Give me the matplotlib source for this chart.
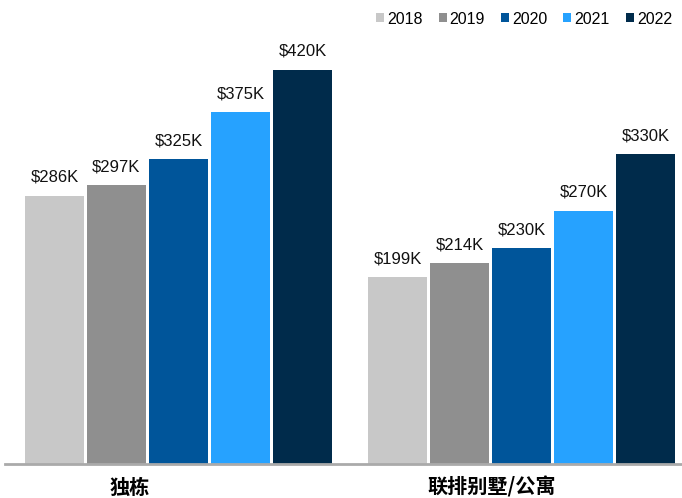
import numpy as np
import matplotlib.pyplot as plt

# ----------------------------
# Data
# ----------------------------
categories = ["独栋", "联排别墅/公寓"]
years = ["2018", "2019", "2020", "2021", "2022"]
values = {
    "2018": [286, 199],
    "2019": [297, 214],
    "2020": [325, 230],
    "2021": [375, 270],
    "2022": [420, 330],
}
colors = ["#c8c8c8", "#8f8f8f", "#00559a", "#26a2ff", "#002b4b"]

# ----------------------------
# Plot
# ----------------------------
plt.rcParams["font.family"] = ["Liberation Sans", "DejaVu Sans"]

fig = plt.figure(figsize=(6.82, 4.98), dpi=100)
ax = fig.add_axes([0.0073, 34 / 498, 0.9927, 454 / 498])

x = np.arange(len(categories))
pitch = 0.1805
width = 0.1718

for i, yr in enumerate(years):
    pos = x + (i - 2) * pitch
    bars = ax.bar(pos, values[yr], width=width, color=colors[i], label=yr, zorder=2)
    for b, v in zip(bars, values[yr]):
        ax.annotate(f"${v}K", (b.get_x() + b.get_width() / 2, v),
                    xytext=(0, 8), textcoords="offset points",
                    ha="center", va="bottom", fontsize=12, color="#111111")

ax.set_ylim(0, 484)
ax.set_xlim(-0.505, 1.466)

# category labels sit a bit left of group centres in the original
ax.set_xticks([-0.141, 0.913])
ax.set_xticklabels(categories, fontsize=14.5, fontweight="bold",
                   family=["Noto Sans CJK SC", "DejaVu Sans"])
ax.tick_params(axis="x", length=0, pad=9)
ax.set_yticks([])

for s in ["top", "right", "left"]:
    ax.spines[s].set_visible(False)
ax.spines["bottom"].set_color("#aaaaaa")
ax.spines["bottom"].set_linewidth(2)

ax.legend(loc="center right", bbox_to_anchor=(0.995, 1 - 19 / 498),
          bbox_transform=fig.transFigure, ncol=5, frameon=False,
          fontsize=11.5, handlelength=0.5, handleheight=0.5,
          handletextpad=0.2, columnspacing=1.0, borderaxespad=0)

fig.savefig("out.png", dpi=100)
